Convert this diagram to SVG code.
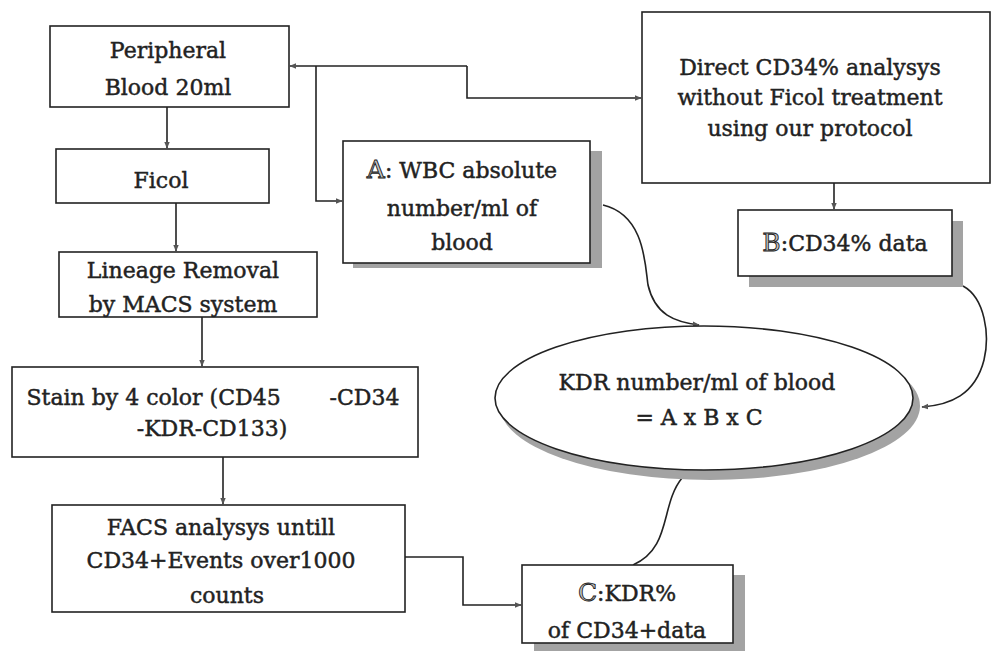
<svg xmlns="http://www.w3.org/2000/svg" width="996" height="654" viewBox="0 0 996 654">
<style>
.box{fill:#fff;stroke:#222;stroke-width:1.6}
.sh{fill:#a3a3a3}
.t{font-family:"DejaVu Serif","Liberation Serif",serif;font-size:22px;fill:#222;stroke:#222;stroke-width:0.45;text-anchor:middle}
.o{fill:#c4c4c4;stroke:#222;stroke-width:0.9;font-size:25px}
.c{fill:none;stroke:#222;stroke-width:1.6}
</style>
<defs>
<marker id="ar" viewBox="0 0 10 10" refX="9" refY="5" markerWidth="7" markerHeight="7" markerUnits="userSpaceOnUse" orient="auto">
<path d="M0,1 L10,5 L0,9 z" fill="#555"/>
</marker>
</defs>
<rect width="996" height="654" fill="#fff"/>
<g id="connectors">
<path class="c" d="M167,107 V148" marker-end="url(#ar)"/>
<path class="c" d="M176,203 V251" marker-end="url(#ar)"/>
<path class="c" d="M202,317 V366" marker-end="url(#ar)"/>
<path class="c" d="M223,457 V504" marker-end="url(#ar)"/>
<path class="c" d="M467,66 H290" marker-end="url(#ar)"/>
<path class="c" d="M467,66 V98 H641" marker-end="url(#ar)"/>
<path class="c" d="M316,66 V201 H342" marker-end="url(#ar)"/>
<path class="c" d="M834,183 V209" marker-end="url(#ar)"/>
<path class="c" d="M405,557 H463 V605 H521" marker-end="url(#ar)"/>
<path class="c" d="M603,205 C645,215 645,265 648,285 C655,315 675,322 699,325" marker-end="url(#ar)"/>
<path class="c" d="M963,286 C985,298 990,335 984,360 C975,395 950,405 922,407" marker-end="url(#ar)"/>
<path class="c" d="M682,478 C660,505 672,548 633,565"/>
</g>
<g id="peripheral">
<rect class="box" x="50" y="26" width="239" height="81"/>
<text class="t" x="168" y="58">Peripheral</text>
<text class="t" x="168" y="95">Blood 20ml</text>
</g>
<g id="ficol">
<rect class="box" x="56" y="149" width="213" height="54"/>
<text class="t" x="161" y="188">Ficol</text>
</g>
<g id="lineage">
<rect class="box" x="59" y="252" width="258" height="65"/>
<text class="t" x="183" y="278">Lineage Removal</text>
<text class="t" x="183" y="312">by MACS system</text>
</g>
<g id="stain">
<rect class="box" x="12" y="367" width="406" height="90"/>
<text class="t" x="213" y="405" xml:space="preserve">Stain by 4 color (CD45       -CD34</text>
<text class="t" x="212" y="436">-KDR-CD133)</text>
</g>
<g id="facs">
<rect class="box" x="52" y="505" width="353" height="107"/>
<text class="t" x="221" y="535">FACS analysys untill</text>
<text class="t" x="221" y="568">CD34+Events over1000</text>
<text class="t" x="227" y="603">counts</text>
</g>
<g id="direct">
<rect class="box" x="642" y="12" width="348" height="171"/>
<text class="t" x="810" y="75">Direct CD34% analysys</text>
<text class="t" x="810" y="105">without Ficol treatment</text>
<text class="t" x="810" y="136">using our protocol</text>
</g>
<g id="a">
<rect class="sh" x="353" y="151" width="249" height="117"/>
<rect class="box" x="343" y="141" width="247" height="122"/>
<text class="t" x="462" y="178"><tspan class="o">A</tspan>: WBC absolute</text>
<text class="t" x="462" y="216">number/ml of</text>
<text class="t" x="462" y="250">blood</text>
</g>
<g id="b">
<rect class="sh" x="749" y="221" width="214" height="66"/>
<rect class="box" x="738" y="210" width="214" height="66"/>
<text class="t" x="845" y="251"><tspan class="o">B</tspan>:CD34% data</text>
</g>
<g id="kdr">
<ellipse class="sh" cx="710" cy="406" rx="210" ry="74"/>
<ellipse class="box" cx="704" cy="398" rx="209" ry="72"/>
<text class="t" x="697" y="390">KDR number/ml of blood</text>
<text class="t" x="699" y="425">= A x B x C</text>
</g>
<g id="c">
<rect class="sh" x="534" y="575" width="211" height="76"/>
<rect class="box" x="522" y="565" width="211" height="78"/>
<text class="t" x="627" y="601"><tspan class="o">C</tspan>:KDR%</text>
<text class="t" x="627" y="638">of CD34+data</text>
</g>
</svg>
